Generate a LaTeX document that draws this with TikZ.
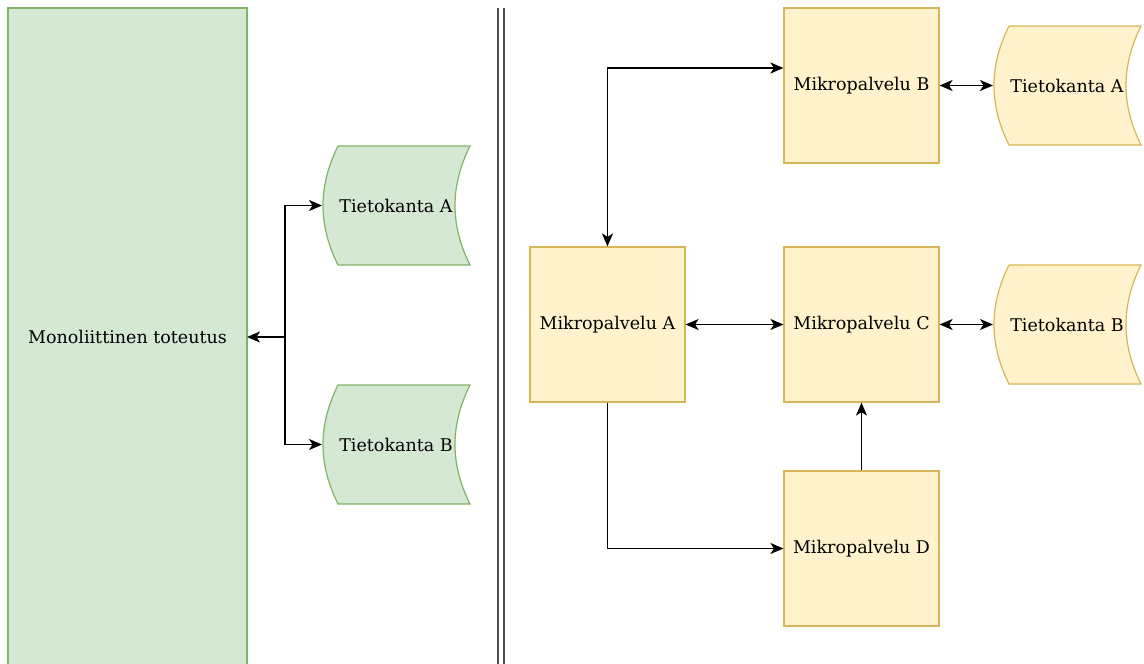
\documentclass[tikz,border=0pt]{standalone}
\usepackage{fontspec}
\setmainfont{DejaVu Serif}
\usetikzlibrary{arrows.meta}
\definecolor{gfill}{HTML}{D5E8D4}
\definecolor{gline}{HTML}{82B366}
\definecolor{yfill}{HTML}{FFF2CC}
\definecolor{yline}{HTML}{D6B656}
\tikzset{
  tip/.tip={Stealth[length=13pt,width=11pt,inset=3.5pt]},
  box/.style={draw=yline, fill=yfill, line width=1.2pt, minimum width=155pt, minimum height=155pt, inner sep=0pt, font=\fontsize{17.5}{20}\selectfont},
  lbl/.style={font=\fontsize{17.5}{20}\selectfont, inner sep=0pt},
  conn/.style={line width=1.5pt, black, tip-tip},
  oneway/.style={line width=1.5pt, black, -tip},
}
\newcommand{\dbshape}[6]{% name, x0, y0, color fill, color line, text
  \draw[draw=#5, fill=#4, line width=1.2pt]
    (#2+16,#3) -- (#2+148,#3)
    .. controls (#2+128,#3+40) and (#2+128,#3+79) .. (#2+148,#3+119)
    -- (#2+16,#3+119)
    .. controls (#2-4,#3+79) and (#2-4,#3+40) .. (#2+16,#3);
  \node[lbl] (#1) at (#2+74,#3+59.5) {#6};
  \coordinate (#1-w) at (#2,#3+59.5);
  \coordinate (#1-e) at (#2+148,#3+59.5);
}
\begin{document}
\begin{tikzpicture}[x=1pt,y=-1pt]
\useasboundingbox (0,0) rectangle (1144,664);
\begin{scope}
\clip (0,0) rectangle (1144,664);
\fill[gfill] (8,8) rectangle (247,680);
\draw[gline, line width=1.2pt] (8,680) -- (8,8) -- (247,8) -- (247,680);
\end{scope}
\coordinate (mono-e) at (247,337);
\node[lbl] (mono) at (127.5,337) {Monoliittinen toteutus};
\dbshape{gdbA}{322}{146}{gfill}{gline}{Tietokanta A}
\dbshape{gdbB}{322}{385}{gfill}{gline}{Tietokanta B}
\coordinate (j) at (285,337);
\draw[oneway] (j) -- (mono-e);
\draw[oneway] (j) |- (gdbA-w);
\draw[oneway] (j) |- (gdbB-w);
% separator
\coordinate (s1t) at (498,8); \coordinate (s1b) at (498,664);
\coordinate (s2t) at (504,8); \coordinate (s2b) at (504,664);
\draw[line width=1.5pt, black!70] (s1t) -- (s1b);
\draw[line width=1.5pt, black!70] (s2t) -- (s2b);
% microservices
\node[box] (mb) at (861.5,85.5) {Mikropalvelu B};
\node[box] (ma) at (607.5,324.5) {Mikropalvelu A};
\node[box] (mc) at (861.5,324.5) {Mikropalvelu C};
\node[box] (md) at (861.5,548.5) {Mikropalvelu D};
\dbshape{ydbA}{993}{26}{yfill}{yline}{Tietokanta A}
\dbshape{ydbB}{993}{265}{yfill}{yline}{Tietokanta B}
\coordinate (k) at (608,68);
\draw[conn] (ma.north) |- (mb.west |- k);
\draw[conn] (mb.east |- ydbA-w) -- (ydbA-w);
\draw[conn] (ma.east) -- (mc.west);
\draw[conn] (mc.east) -- (ydbB-w);
\draw[oneway] (md.north) -- (mc.south);
\draw[oneway] (ma.south) |- (md.west);
\end{tikzpicture}
\end{document}
